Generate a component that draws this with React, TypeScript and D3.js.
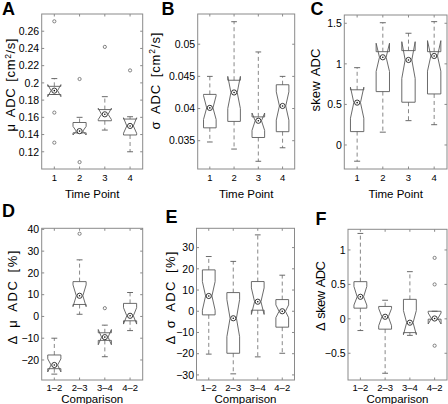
import React from "react";
import * as d3 from "d3";

// ---------- categories / tick labels ----------
const timePoints = ["1", "2", "3", "4"];
const comparisons = ["1\u20132", "2\u20133", "3\u20134", "4\u20132"];

const muTicks = [0.12, 0.14, 0.16, 0.18, 0.2, 0.22, 0.24, 0.26];
const sigmaTicks = [0.035, 0.04, 0.045, 0.05];
const skewTicks = [0, 0.5, 1, 1.5];
const dMuTicks = [-20, -10, 0, 10, 20, 30, 40];
const dSigmaTicks = [-30, -20, -10, 0, 10, 20, 30];
const dSkewTicks = [-0.5, 0, 0.5, 1];

// ---------- A: mu ADC ----------
const muWhiskerLo = [0.1865, 0.142, 0.1452, 0.12];
const muQ1 = [0.1865, 0.142, 0.156, 0.1395];
const muNotchLo = [0.184, 0.1395, 0.1575, 0.1415];
const muMedian = [0.191, 0.144, 0.1635, 0.15];
const muNotchHi = [0.198, 0.1495, 0.1705, 0.1595];
const muQ3 = [0.196, 0.154, 0.169, 0.158];
const muWhiskerHi = [0.205, 0.16, 0.184, 0.1607];
const muOutliers = [[0.2715, 0.1655, 0.1306], [0.2045, 0.108], [0.2418], [0.2145]];

// ---------- B: sigma ADC ----------
const sigmaWhiskerLo = [0.0348, 0.0337, 0.0318, 0.0339];
const sigmaQ1 = [0.037, 0.038, 0.0355, 0.0364];
const sigmaNotchLo = [0.0383, 0.04, 0.0366, 0.0382];
const sigmaMedian = [0.0401, 0.0425, 0.0381, 0.0404];
const sigmaNotchHi = [0.042, 0.045, 0.0393, 0.0426];
const sigmaQ3 = [0.0422, 0.0444, 0.0387, 0.0437];
const sigmaWhiskerHi = [0.045, 0.0535, 0.0488, 0.045];
const sigmaOutliers: number[][] = [[], [], [], []];

// ---------- C: skew ADC ----------
const skewWhiskerLo = [-0.2, 0.158, 0.3, 0.25];
const skewQ1 = [0.165, 0.658, 0.527, 0.629];
const skewNotchLo = [0.33, 0.906, 0.82, 0.91];
const skewMedian = [0.522, 1.081, 1.048, 1.097];
const skewNotchHi = [0.712, 1.254, 1.273, 1.286];
const skewQ3 = [0.68, 1.15, 1.163, 1.15];
const skewWhiskerHi = [0.953, 1.507, 1.377, 1.52];
const skewOutliers: number[][] = [[], [], [], []];

// ---------- D: delta mu ADC ----------
const dMuWhiskerLo = [-26.5, 1, -18.5, -6.5];
const dMuQ1 = [-24, 5.5, -11, -2];
const dMuNotchLo = [-25.5, 4.5, -13, -3.5];
const dMuMedian = [-22.3, 9.5, -9.5, 0.3];
const dMuNotchHi = [-19.5, 14.5, -6, 4];
const dMuQ3 = [-17.7, 16, -7.5, 6];
const dMuWhiskerHi = [-10, 26, -4, 11];
const dMuOutliers = [[], [38], [3.8], []];

// ---------- E: delta sigma ADC ----------
const dSigmaWhiskerLo = [-20.2, -29.5, -21.5, -19.8];
const dSigmaQ1 = [-1.7, -19.8, 0.5, -7.5];
const dSigmaNotchLo = [0.5, -12, -1.5, -3];
const dSigmaMedian = [7.2, -3.3, 4.5, 0];
const dSigmaNotchHi = [14, 5.5, 11, 3];
const dSigmaQ3 = [19.5, 8.8, 14, 5.5];
const dSigmaWhiskerHi = [25.8, 23.5, 36, 17];
const dSigmaOutliers: number[][] = [[], [], [], []];

// ---------- F: delta skew ADC ----------
const dSkewWhiskerLo = [-0.17, -0.79, -0.24, -0.005];
const dSkewQ1 = [0.155, -0.15, -0.2, -0.005];
const dSkewNotchLo = [0.2, -0.1, -0.23, -0.075];
const dSkewMedian = [0.32, 0.03, -0.056, 0.005];
const dSkewNotchHi = [0.47, 0.15, 0.12, 0.085];
const dSkewQ3 = [0.54, 0.18, 0.283, 0.11];
const dSkewWhiskerHi = [1.24, 0.27, 0.685, 0.11];
const dSkewOutliers = [[], [], [], [0.885, 0.5, -0.39]];

type Stats = {
  lo: number[]; q1: number[]; nlo: number[]; med: number[];
  nhi: number[]; q3: number[]; hi: number[]; out: number[][];
};

type Panel = {
  letter: string;
  letterX: number; letterY: number;
  x0: number; x1: number; y0: number; y1: number;
  domain: [number, number];
  ticks: number[];
  cats: string[];
  stats: Stats;
  yLabel: React.ReactNode;
  yLabelX: number; yLabelY: number; yLabelLen: number;
  xLabel: string;
  xTickY: number; xLabelY: number;
};

const FONT = "'Liberation Sans', Arial, Helvetica, sans-serif";
const AXIS = "#8a8a8a";
const BOXC = "#5a5a5a";
const WHISK = "#7a7a7a";

const fmt = (v: number) => {
  const s = String(+v.toFixed(4));
  return v < 0 ? "\u2212" + s.slice(1) : s;
};

const sup = (pre: string, post: string) => (
  <>
    {pre}
    <tspan dy={-4.5} fontSize={8.5}>2</tspan>
    <tspan dy={4.5}>{post}</tspan>
  </>
);

const panels: Panel[] = [
  {
    letter: "A", letterX: 2, letterY: 15,
    x0: 41.7, x1: 142.7, y0: 14, y1: 169, domain: [0.1, 0.28], ticks: muTicks,
    cats: timePoints,
    stats: { lo: muWhiskerLo, q1: muQ1, nlo: muNotchLo, med: muMedian, nhi: muNotchHi, q3: muQ3, hi: muWhiskerHi, out: muOutliers },
    yLabel: sup("\u03bc ADC [cm", "/s]"), yLabelX: 10.5, yLabelY: 85, yLabelLen: 93,
    xLabel: "Time Point", xTickY: 181, xLabelY: 198,
  },
  {
    letter: "B", letterX: 161.5, letterY: 14.5,
    x0: 197.7, x1: 294.7, y0: 14, y1: 169, domain: [0.0306, 0.0547], ticks: sigmaTicks,
    cats: timePoints,
    stats: { lo: sigmaWhiskerLo, q1: sigmaQ1, nlo: sigmaNotchLo, med: sigmaMedian, nhi: sigmaNotchHi, q3: sigmaQ3, hi: sigmaWhiskerHi, out: sigmaOutliers },
    yLabel: sup("\u03c3 ADC [cm", "/s]"), yLabelX: 155, yLabelY: 81, yLabelLen: 97,
    xLabel: "Time Point", xTickY: 181, xLabelY: 198,
  },
  {
    letter: "C", letterX: 310.5, letterY: 15,
    x0: 344.3, x1: 447, y0: 15, y1: 169, domain: [-0.296, 1.602], ticks: skewTicks,
    cats: timePoints,
    stats: { lo: skewWhiskerLo, q1: skewQ1, nlo: skewNotchLo, med: skewMedian, nhi: skewNotchHi, q3: skewQ3, hi: skewWhiskerHi, out: skewOutliers },
    yLabel: "skew ADC", yLabelX: 315, yLabelY: 80, yLabelLen: 63,
    xLabel: "Time Point", xTickY: 181, xLabelY: 198,
  },
  {
    letter: "D", letterX: 2, letterY: 216.7,
    x0: 41.7, x1: 142.7, y0: 228.3, y1: 380, domain: [-29.2, 40.5], ticks: dMuTicks,
    cats: comparisons,
    stats: { lo: dMuWhiskerLo, q1: dMuQ1, nlo: dMuNotchLo, med: dMuMedian, nhi: dMuNotchHi, q3: dMuQ3, hi: dMuWhiskerHi, out: dMuOutliers },
    yLabel: "\u0394 \u03bc ADC [%]", yLabelX: 12, yLabelY: 297.5, yLabelLen: 94,
    xLabel: "Comparison", xTickY: 390.5, xLabelY: 403,
  },
  {
    letter: "E", letterX: 165.5, letterY: 223,
    x0: 196.5, x1: 294.5, y0: 228.3, y1: 380, domain: [-32.4, 39.1], ticks: dSigmaTicks,
    cats: comparisons,
    stats: { lo: dSigmaWhiskerLo, q1: dSigmaQ1, nlo: dSigmaNotchLo, med: dSigmaMedian, nhi: dSigmaNotchHi, q3: dSigmaQ3, hi: dSigmaWhiskerHi, out: dSigmaOutliers },
    yLabel: "\u0394 \u03c3 ADC [%]", yLabelX: 170, yLabelY: 298, yLabelLen: 93,
    xLabel: "Comparison", xTickY: 390.5, xLabelY: 403,
  },
  {
    letter: "F", letterX: 315.5, letterY: 225,
    x0: 348, x1: 447, y0: 229.3, y1: 380, domain: [-0.888, 1.3], ticks: dSkewTicks,
    cats: comparisons,
    stats: { lo: dSkewWhiskerLo, q1: dSkewQ1, nlo: dSkewNotchLo, med: dSkewMedian, nhi: dSkewNotchHi, q3: dSkewQ3, hi: dSkewWhiskerHi, out: dSkewOutliers },
    yLabel: "\u0394 skew ADC", yLabelX: 320.7, yLabelY: 296, yLabelLen: 70,
    xLabel: "Comparison", xTickY: 390.5, xLabelY: 403,
  },
];

function BoxPanel({ p }: { p: Panel }) {
  const x = d3.scaleLinear().domain([0.5, p.cats.length + 0.5]).range([p.x0, p.x1]);
  const y = d3.scaleLinear().domain(p.domain).range([p.y1, p.y0]);
  const unit = x(1) - x(0);
  const hw = unit * 0.26;
  const nd = 0.5;
  const cap = hw * 0.45;
  const tl = 2.5;
  const s = p.stats;
  const line = d3.line<[number, number]>();

  return (
    <g>
      <text x={p.letterX} y={p.letterY} fontSize={18} fontWeight="bold" fontFamily={FONT}>{p.letter}</text>
      <rect x={p.x0} y={p.y0} width={p.x1 - p.x0} height={p.y1 - p.y0} fill="white" stroke={AXIS} strokeWidth={1} />
      {p.ticks.map((t) => (
        <g key={t}>
          <line x1={p.x0} x2={p.x0 + tl} y1={y(t)} y2={y(t)} stroke={AXIS} />
          <line x1={p.x1} x2={p.x1 - tl} y1={y(t)} y2={y(t)} stroke={AXIS} />
          <text x={p.x0 - 2.5} y={y(t)} dy="0.36em" textAnchor="end" fontSize={10.5} fontFamily={FONT}>{fmt(t)}</text>
        </g>
      ))}
      {p.cats.map((c, i) => (
        <g key={c}>
          <line x1={x(i + 1)} x2={x(i + 1)} y1={p.y1} y2={p.y1 - tl} stroke={AXIS} />
          <line x1={x(i + 1)} x2={x(i + 1)} y1={p.y0} y2={p.y0 + tl} stroke={AXIS} />
          <text x={x(i + 1)} y={p.xTickY} textAnchor="middle" fontSize={9.5} fontFamily={FONT}>{c}</text>
        </g>
      ))}
      <text x={(p.x0 + p.x1) / 2} y={p.xLabelY} textAnchor="middle" fontSize={11.5} fontFamily={FONT}>{p.xLabel}</text>
      <text transform={`translate(${p.yLabelX},${p.yLabelY}) rotate(-90)`} dy="0.36em" textAnchor="middle"
        fontSize={13} wordSpacing={2} fontFamily={FONT} textLength={p.yLabelLen} lengthAdjust="spacing">{p.yLabel}</text>

      {p.cats.map((c, i) => {
        const cx = x(i + 1);
        const pts: [number, number][] = [
          [cx - hw, y(s.q1[i])], [cx - hw, y(s.nlo[i])], [cx - hw * nd, y(s.med[i])],
          [cx - hw, y(s.nhi[i])], [cx - hw, y(s.q3[i])], [cx + hw, y(s.q3[i])],
          [cx + hw, y(s.nhi[i])], [cx + hw * nd, y(s.med[i])], [cx + hw, y(s.nlo[i])],
          [cx + hw, y(s.q1[i])], [cx - hw, y(s.q1[i])],
        ];
        return (
          <g key={"b" + c}>
            {s.hi[i] > s.q3[i] && (
              <line x1={cx} x2={cx} y1={y(s.q3[i])} y2={y(s.hi[i])} stroke={WHISK} strokeDasharray="4,3" strokeWidth={0.9} />
            )}
            {s.lo[i] < s.q1[i] && (
              <line x1={cx} x2={cx} y1={y(s.q1[i])} y2={y(s.lo[i])} stroke={WHISK} strokeDasharray="4,3" strokeWidth={0.9} />
            )}
            <line x1={cx - cap} x2={cx + cap} y1={y(s.hi[i])} y2={y(s.hi[i])} stroke={BOXC} strokeWidth={0.9} />
            <line x1={cx - cap} x2={cx + cap} y1={y(s.lo[i])} y2={y(s.lo[i])} stroke={BOXC} strokeWidth={0.9} />
            <path d={line(pts) || ""} fill="none" stroke={BOXC} strokeWidth={0.9} />
            <circle cx={cx} cy={y(s.med[i])} r={2.6} fill="white" stroke="#222" strokeWidth={0.9} />
            <circle cx={cx} cy={y(s.med[i])} r={0.8} fill="#111" />
            {s.out[i].map((o, k) => (
              <circle key={k} cx={cx} cy={y(o)} r={1.6} fill="none" stroke="#666" strokeWidth={0.8} />
            ))}
          </g>
        );
      })}
    </g>
  );
}

export default function App() {
  return (
    <svg width={448} height={404} style={{ position: "absolute", left: 0, top: 0, background: "white" }}>
      <rect width={448} height={404} fill="white" />
      {panels.map((p) => <BoxPanel key={p.letter} p={p} />)}
    </svg>
  );
}
